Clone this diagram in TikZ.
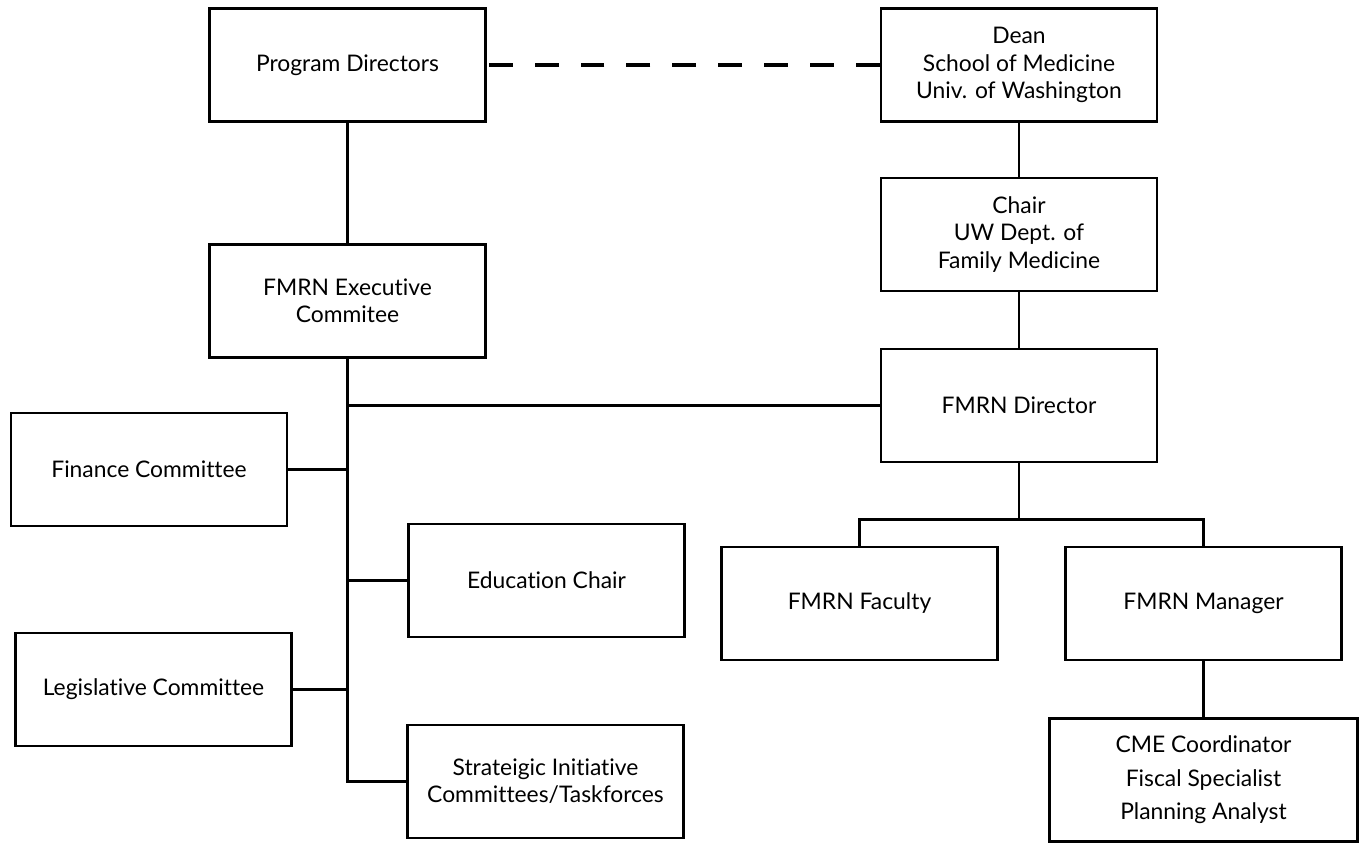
\documentclass[tikz,border=0pt]{standalone}
\usepackage{fontspec}
\setmainfont{Lato}[Ligatures=NoCommon]
\usetikzlibrary{positioning,calc}

\tikzset{
    unit/.style={draw, line width=1.5pt, minimum width=5.52cm, minimum height=2.26cm,
        align=center, font=\fontsize{13}{15.5}\selectfont},
    staff/.style={unit, minimum width=6.15cm, minimum height=2.47cm,
        font=\fontsize{13}{19}\selectfont},
    link/.style={line width=1.6pt},
}

\begin{document}
\begin{tikzpicture}
    \useasboundingbox (0,0) rectangle (27.18,16.9);

    % Left column
    \node[unit] (pd) at (6.95,15.6) {Program Directors};
    \node[unit] (exec) at (6.95,10.88) {FMRN Executive\\Commitee};
    \node[unit] (fin) at (2.98,7.51) {Finance Committee};
    \node[unit] (edu) at (10.93,5.29) {Education Chair};
    \node[unit] (leg) at (3.07,3.11) {Legislative Committee};
    \node[unit] (sti) at (10.91,1.27) {Strateigic Initiative\\Committees/Taskforces};

    % Right column
    \node[unit] (dean) at (20.38,15.6) {Dean\\School of Medicine\\Univ. of Washington};
    \node[unit] (chair) at (20.38,12.21) {Chair\\UW Dept. of\\Family Medicine};
    \node[unit] (dir) at (20.38,8.79) {FMRN Director};
    \node[unit] (fac) at (17.19,4.83) {FMRN Faculty};
    \node[unit] (mgr) at (24.07,4.83) {FMRN Manager};
    \node[staff] (cme) at (24.07,1.30) {CME Coordinator\\Fiscal Specialist\\Planning Analyst};

    % Connectors
    \draw[link, line width=2.1pt, dash pattern=on 13.6pt off 12.5pt] (dean.west) -- (pd.east);
    \draw[link] (pd) -- (exec);
    \draw[link] (dean) -- (chair);
    \draw[link] (chair) -- (dir);
    \draw[link] (exec.south) |- (sti.west);
    \draw[link] (exec.south |- dir.west) -- (dir.west);
    \draw[link] (fin.east) -- (fin.east -| exec.south);
    \draw[link] (exec.south |- edu.west) -- (edu.west);
    \draw[link] (leg.east) -- (leg.east -| exec.south);
    \coordinate (split) at ($(dir.south)+(0,-1.12)$);
    \draw[link] (dir.south) -- (split);
    \draw[link] (fac.north) |- (split) -| (mgr.north);
    \draw[link] (mgr) -- (cme);
\end{tikzpicture}
\end{document}
